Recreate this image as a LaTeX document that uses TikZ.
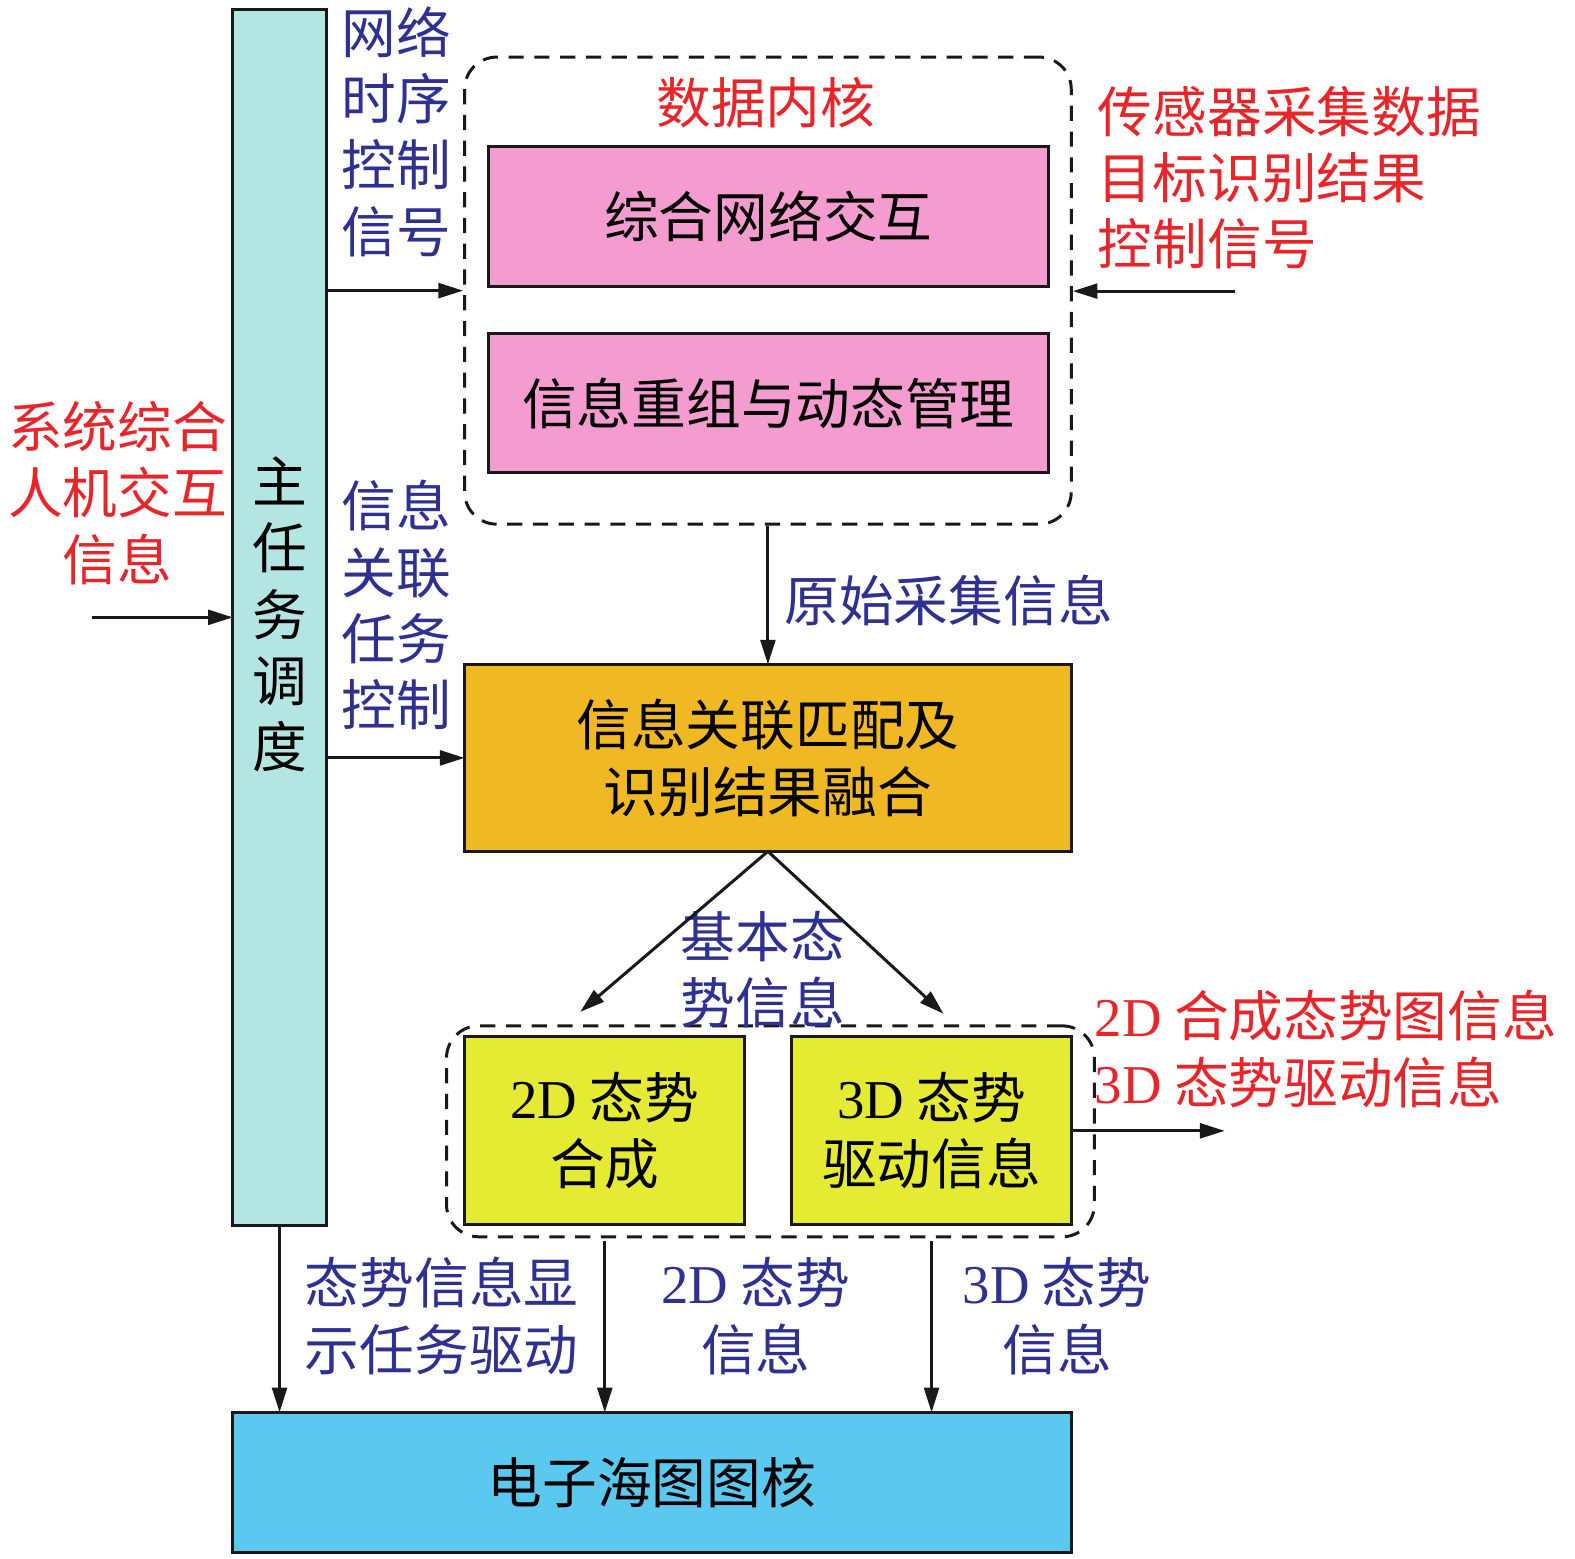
\documentclass[tikz,border=0pt]{standalone}
\usepackage{fontspec}
\setmainfont{Liberation Serif}
\newfontfamily\cjk{Noto Sans CJK SC}
\newfontfamily\lat{Liberation Serif}
\usetikzlibrary{arrows.meta}
\definecolor{colcyan}{HTML}{B3E5E3}
\definecolor{pinkc}{HTML}{F49BD0}
\definecolor{orangec}{HTML}{F0B823}
\definecolor{yellowc}{HTML}{E5EA32}
\definecolor{bluec}{HTML}{5BC8EF}
\definecolor{navyc}{HTML}{2E3192}
\definecolor{redc}{HTML}{E8262A}
\tikzset{
  txt/.style={font=\cjk\fontsize{15.5}{18.8}\selectfont, align=center, inner sep=0pt},
  navy/.style={txt, text=navyc},
  redt/.style={txt, text=redc},
  boxb/.style={draw=black!90, line width=0.85pt, txt, outer sep=0pt},
  dbox/.style={draw=black!90, line width=0.85pt, dash pattern=on 4.3pt off 3pt, rounded corners=0.32cm},
  arr/.style={draw=black!90, line width=0.85pt, -{Triangle[length=7pt,width=4.2pt]}},
  ln/.style={draw=black!90, line width=0.85pt}
}
\begin{document}
\begin{tikzpicture}[x=0.01cm,y=-0.01cm]
\useasboundingbox (0,0) rectangle (1569,1553);
% main column
\node[boxb, fill=colcyan, minimum width=0.93cm, minimum height=12.1cm] (col) at (278.5,615) {};
\node[txt] (colt) at (278.5,612) {主\\任\\务\\调\\度};
% data kernel
\node[dbox, minimum width=6.04cm, minimum height=4.65cm] (kernel) at (765,289.5) {};
\node[redt] (kt) at (763,102) {数据内核};
\node[boxb, fill=pinkc, minimum width=5.57cm, minimum height=1.39cm] (p1) at (765.5,215.5) {综合网络交互};
\node[boxb, fill=pinkc, minimum width=5.57cm, minimum height=1.39cm] (p2) at (765.5,401.5) {信息重组与动态管理};
% orange
\node[boxb, fill=orangec, minimum width=6.04cm, minimum height=1.86cm] (fuse) at (765,755) {信息关联匹配及\\识别结果融合};
% lower dashed
\node[dbox, minimum width=6.45cm, minimum height=2.10cm] (d2) at (767.5,1127) {};
\node[boxb, fill=yellowc, minimum width=2.79cm, minimum height=1.87cm] (y1) at (602.5,1126.5) {{\lat 2D} 态势\\合成};
\node[boxb, fill=yellowc, minimum width=2.78cm, minimum height=1.87cm] (y2) at (928,1126.5) {{\lat 3D} 态势\\驱动信息};
% bottom
\node[boxb, fill=bluec, minimum width=8.35cm, minimum height=1.40cm] (chart) at (649.5,1477) {电子海图图核};
% labels
\node[navy] (l1) at (395,131) {网络\\时序\\控制\\信号};
\node[navy] (l2) at (395,603) {信息\\关联\\任务\\控制};
\node[redt] (l3) at (117,491) {系统综合\\人机交互\\信息};
\node[redt, anchor=west, align=left] (l4) at (1093,177) {传感器采集数据\\目标识别结果\\控制信号};
\node[navy] (l5) at (945,598) {原始采集信息};
\node[navy] (l6) at (760,966) {基本态\\势信息};
\node[redt, anchor=west, align=left] (l7) at (1090,1045) {{\lat 2D} 合成态势图信息\\{\lat 3D} 态势驱动信息};
\node[navy] (l8) at (440,1311) {态势信息显\\示任务驱动};
\node[navy] (l9) at (753,1311) {{\lat 2D} 态势\\信息};
\node[navy] (l10) at (1053,1311) {{\lat 3D} 态势\\信息};
% connectors
\coordinate (sens) at (1230,290);
\coordinate (hmi) at (92,615);
\coordinate (t2d) at (578,1008);
\coordinate (t3d) at (940,1010);
\coordinate (out) at (1220,1126.5);
\draw[arr] (col.east |- kernel.west) -- (kernel.west);
\draw[arr] (sens) -- (sens -| kernel.east);
\draw[arr] (hmi) -- (col.west);
\draw[arr] (col.east |- fuse.west) -- (fuse.west);
\draw[arr] (kernel.south) -- (fuse.north);
\draw[arr] (fuse.south) -- (t2d);
\draw[arr] (fuse.south) -- (t3d);
\draw[arr] (y2.east) -- (out);
\draw[arr] (col.south) -- (col.south |- chart.north);
\draw[arr] ([yshift=-0.03cm]y1.south |- d2.south) -- (y1.south |- chart.north);
\draw[arr] ([yshift=-0.03cm]y2.south |- d2.south) -- (y2.south |- chart.north);
\end{tikzpicture}
\end{document}
